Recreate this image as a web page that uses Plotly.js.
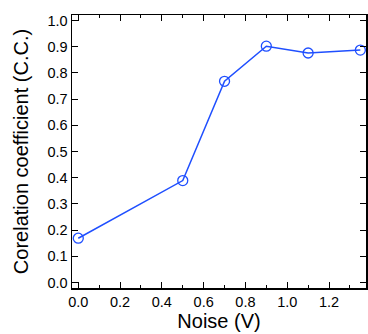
<!DOCTYPE html>
<html>
<head>
<meta charset="utf-8">
<script src="https://cdn.plot.ly/plotly-3.0.1.min.js"></script>
<style>html,body{margin:0;padding:0;background:#fff;}#chart{width:368px;height:334px;}</style>
</head>
<body>
<div id="chart"></div>
<script>
const noise = [0.0, 0.5, 0.7, 0.9, 1.1, 1.35];
const corr = [0.169, 0.389, 0.768, 0.902, 0.876, 0.887];
const xTickVals = [0, 0.2, 0.4, 0.6, 0.8, 1.0, 1.2];
const xTickText = ["0.0", "0.2", "0.4", "0.6", "0.8", "1.0", "1.2"];
const yTickVals = [0, 0.1, 0.2, 0.3, 0.4, 0.5, 0.6, 0.7, 0.8, 0.9, 1.0];
const yTickText = ["0.0", "0.1", "0.2", "0.3", "0.4", "0.5", "0.6", "0.7", "0.8", "0.9", "1.0"];

const trace = {
  x: noise, y: corr, type: 'scatter', mode: 'lines+markers',
  line: {color: '#1f4fff', width: 1.5},
  marker: {symbol: 'circle-open', size: 10, color: '#1f4fff', line: {width: 1.3, color: '#1f4fff'}},
  cliponaxis: false
};
const font = {family: 'Liberation Sans, Arial, sans-serif', color: '#000'};
const layout = {
  width: 368, height: 334,
  margin: {l: 72, r: 2, t: 15, b: 46},
  paper_bgcolor: '#fff', plot_bgcolor: '#fff',
  showlegend: false,
  font: font,
  xaxis: {
    range: [-0.03, 1.377], showgrid: false, zeroline: false,
    showline: true, linecolor: '#000', linewidth: 1.5, mirror: 'ticks',
    ticks: 'inside', ticklen: 6, tickwidth: 1, tickcolor: '#000',
    tickvals: xTickVals, ticktext: xTickText,
    tickfont: {size: 14.5, family: font.family, color: '#000'},
    minor: {dtick: 0.1, ticks: 'inside', ticklen: 3, tickwidth: 1, tickcolor: '#000', showgrid: false},
    title: {text: 'Noise (V)', font: {size: 20, family: font.family, color: '#000'}, standoff: 4}
  },
  yaxis: {
    range: [-0.021, 1.021], showgrid: false, zeroline: false,
    showline: true, linecolor: '#000', linewidth: 1.5, mirror: 'ticks',
    ticks: 'inside', ticklen: 6, tickwidth: 1, tickcolor: '#000',
    tickvals: yTickVals, ticktext: yTickText,
    tickfont: {size: 14.5, family: font.family, color: '#000'},
    title: {text: 'Corelation coefficient (C.C.)', font: {size: 20, family: font.family, color: '#000'}, standoff: 13}
  }
};
Plotly.newPlot('chart', [trace], layout, {displayModeBar: false, staticPlot: true});
</script>
</body>
</html>
